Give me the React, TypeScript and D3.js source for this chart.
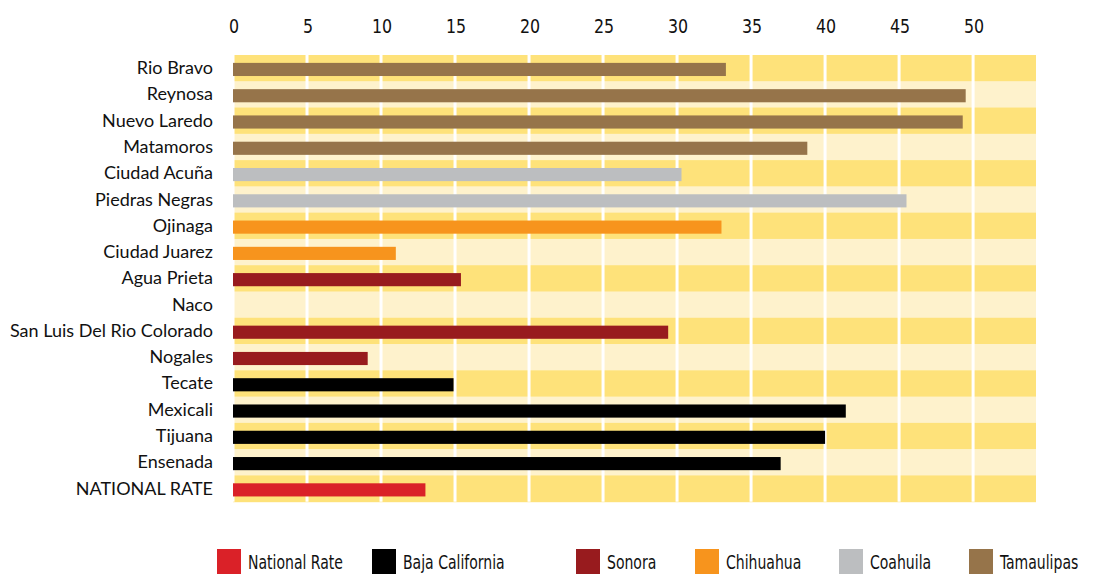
import * as d3 from "d3";

// border cities, top to bottom
const cities = [
  "Rio Bravo",
  "Reynosa",
  "Nuevo Laredo",
  "Matamoros",
  "Ciudad Acuña",
  "Piedras Negras",
  "Ojinaga",
  "Ciudad Juarez",
  "Agua Prieta",
  "Naco",
  "San Luis Del Rio Colorado",
  "Nogales",
  "Tecate",
  "Mexicali",
  "Tijuana",
  "Ensenada",
  "NATIONAL RATE",
];
const rates = [33.3, 49.5, 49.3, 38.8, 30.3, 45.5, 33.0, 11.0, 15.4, 0, 29.4, 9.1, 14.9, 41.4, 40.0, 37.0, 13.0];
const cityState = [
  "Tamaulipas",
  "Tamaulipas",
  "Tamaulipas",
  "Tamaulipas",
  "Coahuila",
  "Coahuila",
  "Chihuahua",
  "Chihuahua",
  "Sonora",
  "Sonora",
  "Sonora",
  "Sonora",
  "Baja California",
  "Baja California",
  "Baja California",
  "Baja California",
  "National Rate",
];

const legendNames = ["National Rate", "Baja California", "Sonora", "Chihuahua", "Coahuila", "Tamaulipas"];
const legendColors = ["#da2128", "#000000", "#981b1e", "#f7941d", "#bcbec0", "#96744a"];
const legendX = [217, 372, 576, 695, 839, 969];

const ticks = [0, 5, 10, 15, 20, 25, 30, 35, 40, 45, 50];

const width = 1118;
const height = 574;
const condensed = "'DejaVu Sans Condensed', sans-serif";

export default function App() {
  const x = d3.scaleLinear().domain([0, 54.25]).range([233, 1036]);
  const y = d3.scaleBand<string>().domain(cities).range([55, 501.7]);
  const color = d3.scaleOrdinal<string, string>().domain(legendNames).range(legendColors);
  const bw = y.bandwidth();

  return (
    <svg width={width} height={height} style={{ position: "absolute", left: 0, top: 0, background: "#fff" }}>
      {/* row stripes */}
      {cities.map((c, i) => (
        <rect key={c} x={x(0)} y={y(c)} width={x(54.25) - x(0)} height={bw + 0.5} fill={i % 2 === 0 ? "#fee27a" : "#fef2cc"} />
      ))}
      {/* white vertical gridlines */}
      {ticks.map((t) => (
        <line key={t} x1={x(t)} x2={x(t)} y1={55} y2={501.7} stroke="#fff" strokeWidth={3} />
      ))}
      {/* bars */}
      {cities.map((c, i) => (
        <rect
          key={c}
          x={x(0)}
          y={(y(c) ?? 0) + bw * 0.3}
          width={x(rates[i]) - x(0)}
          height={bw * 0.5}
          fill={color(cityState[i])}
        />
      ))}
      {/* tick labels */}
      {ticks.map((t) => (
        <text
          key={t}
          transform={`translate(${x(t) + 1},33) scale(0.88,1)`}
          textAnchor="middle"
          fontFamily={condensed}
          fontSize={20}
          fill="#111"
        >
          {t}
        </text>
      ))}
      {/* category labels */}
      {cities.map((c) => (
        <text key={c} x={213} y={(y(c) ?? 0) + bw / 2 + 6} textAnchor="end" fontFamily="Lato, sans-serif" fontSize={18} fill="#111">
          {c}
        </text>
      ))}
      {/* legend */}
      {legendNames.map((n, i) => (
        <g key={n} transform={`translate(${legendX[i]},549)`}>
          <rect width={24} height={25} fill={legendColors[i]} />
          <text transform="translate(31,20) scale(0.8,1)" fontFamily={condensed} fontSize={19.5} fill="#111">
            {n}
          </text>
        </g>
      ))}
    </svg>
  );
}
